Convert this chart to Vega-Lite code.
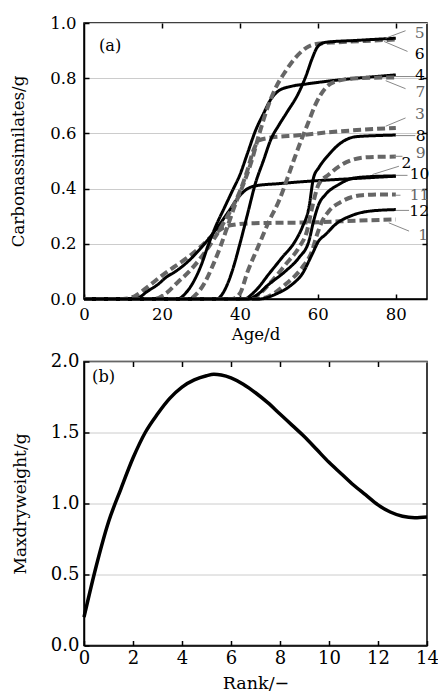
{
  "$schema": "https://vega.github.io/schema/vega-lite/v6.json",
  "padding": {"left": 10, "top": 14, "right": 4, "bottom": 0},
  "spacing": 7.5,
  "config": {
    "font": "DejaVu Serif",
    "view": {"stroke": "black", "strokeWidth": 1.5},
    "axis": {
      "domainColor": "black", "domainWidth": 1.5,
      "tickColor": "black", "tickWidth": 1.5, "tickSize": -5,
      "labelFont": "DejaVu Serif", "labelColor": "black",
      "titleFont": "DejaVu Serif", "titleColor": "black", "titleFontWeight": "normal",
      "gridColor": "#cccccc", "gridWidth": 1
    }
  },
  "datasets": {
    "curves": [
      {"id":1,"s":"dashed","a":0,"w":0},{"id":1,"s":"dashed","a":10,"w":0},{"id":1,"s":"dashed","a":13,"w":0.01},{"id":1,"s":"dashed","a":16,"w":0.04},{"id":1,"s":"dashed","a":20,"w":0.085},{"id":1,"s":"dashed","a":23,"w":0.115},{"id":1,"s":"dashed","a":27,"w":0.155},{"id":1,"s":"dashed","a":30,"w":0.19},{"id":1,"s":"dashed","a":33,"w":0.23},{"id":1,"s":"dashed","a":36,"w":0.26},{"id":1,"s":"dashed","a":39,"w":0.27},{"id":1,"s":"dashed","a":42,"w":0.274},{"id":1,"s":"dashed","a":50,"w":0.276},{"id":1,"s":"dashed","a":60,"w":0.278},{"id":1,"s":"dashed","a":70,"w":0.284},{"id":1,"s":"dashed","a":80,"w":0.288},
      {"id":2,"s":"solid","a":0,"w":0},{"id":2,"s":"solid","a":13,"w":0},{"id":2,"s":"solid","a":16.5,"w":0.03},{"id":2,"s":"solid","a":19,"w":0.053},{"id":2,"s":"solid","a":21,"w":0.078},{"id":2,"s":"solid","a":23.5,"w":0.1},{"id":2,"s":"solid","a":27,"w":0.14},{"id":2,"s":"solid","a":30,"w":0.185},{"id":2,"s":"solid","a":33.5,"w":0.245},{"id":2,"s":"solid","a":37,"w":0.315},{"id":2,"s":"solid","a":40,"w":0.375},{"id":2,"s":"solid","a":42,"w":0.4},{"id":2,"s":"solid","a":44,"w":0.41},{"id":2,"s":"solid","a":50,"w":0.418},{"id":2,"s":"solid","a":58,"w":0.427},{"id":2,"s":"solid","a":70,"w":0.437},{"id":2,"s":"solid","a":80,"w":0.445},
      {"id":3,"s":"dashed","a":0,"w":0},{"id":3,"s":"dashed","a":18,"w":0},{"id":3,"s":"dashed","a":21,"w":0.02},{"id":3,"s":"dashed","a":24,"w":0.06},{"id":3,"s":"dashed","a":27,"w":0.1},{"id":3,"s":"dashed","a":30,"w":0.15},{"id":3,"s":"dashed","a":33,"w":0.21},{"id":3,"s":"dashed","a":36,"w":0.28},{"id":3,"s":"dashed","a":38,"w":0.33},{"id":3,"s":"dashed","a":40,"w":0.39},{"id":3,"s":"dashed","a":42,"w":0.47},{"id":3,"s":"dashed","a":43.5,"w":0.54},{"id":3,"s":"dashed","a":45,"w":0.575},{"id":3,"s":"dashed","a":48,"w":0.585},{"id":3,"s":"dashed","a":55,"w":0.593},{"id":3,"s":"dashed","a":62,"w":0.603},{"id":3,"s":"dashed","a":70,"w":0.612},{"id":3,"s":"dashed","a":80,"w":0.62},
      {"id":4,"s":"solid","a":0,"w":0},{"id":4,"s":"solid","a":24,"w":0},{"id":4,"s":"solid","a":26,"w":0.02},{"id":4,"s":"solid","a":28,"w":0.06},{"id":4,"s":"solid","a":30,"w":0.12},{"id":4,"s":"solid","a":32,"w":0.2},{"id":4,"s":"solid","a":34,"w":0.27},{"id":4,"s":"solid","a":36,"w":0.33},{"id":4,"s":"solid","a":38,"w":0.39},{"id":4,"s":"solid","a":40,"w":0.45},{"id":4,"s":"solid","a":42,"w":0.53},{"id":4,"s":"solid","a":44,"w":0.61},{"id":4,"s":"solid","a":46,"w":0.67},{"id":4,"s":"solid","a":48,"w":0.725},{"id":4,"s":"solid","a":50,"w":0.755},{"id":4,"s":"solid","a":53,"w":0.77},{"id":4,"s":"solid","a":57,"w":0.779},{"id":4,"s":"solid","a":63,"w":0.79},{"id":4,"s":"solid","a":70,"w":0.8},{"id":4,"s":"solid","a":80,"w":0.812},
      {"id":5,"s":"dashed","a":0,"w":0},{"id":5,"s":"dashed","a":27,"w":0},{"id":5,"s":"dashed","a":29,"w":0.02},{"id":5,"s":"dashed","a":31,"w":0.06},{"id":5,"s":"dashed","a":33,"w":0.12},{"id":5,"s":"dashed","a":35,"w":0.19},{"id":5,"s":"dashed","a":37,"w":0.27},{"id":5,"s":"dashed","a":39,"w":0.35},{"id":5,"s":"dashed","a":41,"w":0.42},{"id":5,"s":"dashed","a":43,"w":0.5},{"id":5,"s":"dashed","a":45,"w":0.6},{"id":5,"s":"dashed","a":47,"w":0.69},{"id":5,"s":"dashed","a":49,"w":0.76},{"id":5,"s":"dashed","a":51.7,"w":0.825},{"id":5,"s":"dashed","a":54,"w":0.87},{"id":5,"s":"dashed","a":57,"w":0.91},{"id":5,"s":"dashed","a":60,"w":0.925},{"id":5,"s":"dashed","a":65,"w":0.93},{"id":5,"s":"dashed","a":72,"w":0.935},{"id":5,"s":"dashed","a":80,"w":0.94},
      {"id":6,"s":"solid","a":0,"w":0},{"id":6,"s":"solid","a":34,"w":0},{"id":6,"s":"solid","a":36,"w":0.03},{"id":6,"s":"solid","a":38,"w":0.1},{"id":6,"s":"solid","a":40,"w":0.2},{"id":6,"s":"solid","a":42,"w":0.31},{"id":6,"s":"solid","a":44,"w":0.42},{"id":6,"s":"solid","a":46,"w":0.5},{"id":6,"s":"solid","a":48,"w":0.58},{"id":6,"s":"solid","a":50,"w":0.63},{"id":6,"s":"solid","a":52,"w":0.675},{"id":6,"s":"solid","a":55,"w":0.745},{"id":6,"s":"solid","a":57,"w":0.81},{"id":6,"s":"solid","a":58.5,"w":0.87},{"id":6,"s":"solid","a":60,"w":0.915},{"id":6,"s":"solid","a":62,"w":0.93},{"id":6,"s":"solid","a":70,"w":0.937},{"id":6,"s":"solid","a":80,"w":0.945},
      {"id":7,"s":"dashed","a":0,"w":0},{"id":7,"s":"dashed","a":38,"w":0},{"id":7,"s":"dashed","a":40,"w":0.02},{"id":7,"s":"dashed","a":42,"w":0.1},{"id":7,"s":"dashed","a":45,"w":0.2},{"id":7,"s":"dashed","a":47.4,"w":0.28},{"id":7,"s":"dashed","a":50,"w":0.355},{"id":7,"s":"dashed","a":52.5,"w":0.45},{"id":7,"s":"dashed","a":54,"w":0.51},{"id":7,"s":"dashed","a":56,"w":0.585},{"id":7,"s":"dashed","a":57.7,"w":0.645},{"id":7,"s":"dashed","a":59.4,"w":0.705},{"id":7,"s":"dashed","a":62,"w":0.765},{"id":7,"s":"dashed","a":65,"w":0.79},{"id":7,"s":"dashed","a":70,"w":0.8},{"id":7,"s":"dashed","a":80,"w":0.803},
      {"id":8,"s":"solid","a":0,"w":0},{"id":8,"s":"solid","a":41,"w":0},{"id":8,"s":"solid","a":44,"w":0.03},{"id":8,"s":"solid","a":47.4,"w":0.09},{"id":8,"s":"solid","a":50.8,"w":0.15},{"id":8,"s":"solid","a":54.2,"w":0.21},{"id":8,"s":"solid","a":56,"w":0.26},{"id":8,"s":"solid","a":57.7,"w":0.33},{"id":8,"s":"solid","a":58.9,"w":0.44},{"id":8,"s":"solid","a":60.2,"w":0.475},{"id":8,"s":"solid","a":62.8,"w":0.523},{"id":8,"s":"solid","a":65.4,"w":0.56},{"id":8,"s":"solid","a":69.7,"w":0.588},{"id":8,"s":"solid","a":75,"w":0.592},{"id":8,"s":"solid","a":80,"w":0.594},
      {"id":9,"s":"dashed","a":0,"w":0},{"id":9,"s":"dashed","a":42,"w":0},{"id":9,"s":"dashed","a":44.8,"w":0.017},{"id":9,"s":"dashed","a":48.2,"w":0.065},{"id":9,"s":"dashed","a":51.7,"w":0.125},{"id":9,"s":"dashed","a":55.1,"w":0.186},{"id":9,"s":"dashed","a":57.2,"w":0.246},{"id":9,"s":"dashed","a":58.5,"w":0.33},{"id":9,"s":"dashed","a":60.2,"w":0.415},{"id":9,"s":"dashed","a":62.8,"w":0.451},{"id":9,"s":"dashed","a":66.2,"w":0.487},{"id":9,"s":"dashed","a":71.4,"w":0.512},{"id":9,"s":"dashed","a":75,"w":0.515},{"id":9,"s":"dashed","a":80,"w":0.516},
      {"id":10,"s":"solid","a":0,"w":0},{"id":10,"s":"solid","a":42,"w":0},{"id":10,"s":"solid","a":43.9,"w":0.01},{"id":10,"s":"solid","a":47.4,"w":0.053},{"id":10,"s":"solid","a":51.7,"w":0.101},{"id":10,"s":"solid","a":55.1,"w":0.149},{"id":10,"s":"solid","a":57.7,"w":0.21},{"id":10,"s":"solid","a":58.9,"w":0.282},{"id":10,"s":"solid","a":60.2,"w":0.342},{"id":10,"s":"solid","a":62,"w":0.379},{"id":10,"s":"solid","a":65.4,"w":0.415},{"id":10,"s":"solid","a":68.8,"w":0.437},{"id":10,"s":"solid","a":73,"w":0.443},{"id":10,"s":"solid","a":80,"w":0.446},
      {"id":11,"s":"dashed","a":0,"w":0},{"id":11,"s":"dashed","a":44,"w":0},{"id":11,"s":"dashed","a":47.4,"w":0.01},{"id":11,"s":"dashed","a":51.7,"w":0.053},{"id":11,"s":"dashed","a":55.9,"w":0.113},{"id":11,"s":"dashed","a":58.5,"w":0.174},{"id":11,"s":"dashed","a":59.8,"w":0.234},{"id":11,"s":"dashed","a":61.1,"w":0.282},{"id":11,"s":"dashed","a":62.8,"w":0.318},{"id":11,"s":"dashed","a":66.2,"w":0.354},{"id":11,"s":"dashed","a":71.4,"w":0.376},{"id":11,"s":"dashed","a":76.5,"w":0.379},{"id":11,"s":"dashed","a":80,"w":0.379},
      {"id":12,"s":"solid","a":0,"w":0},{"id":12,"s":"solid","a":45,"w":0},{"id":12,"s":"solid","a":49.1,"w":0.017},{"id":12,"s":"solid","a":53.4,"w":0.053},{"id":12,"s":"solid","a":55.9,"w":0.089},{"id":12,"s":"solid","a":58.5,"w":0.161},{"id":12,"s":"solid","a":60.2,"w":0.21},{"id":12,"s":"solid","a":62,"w":0.234},{"id":12,"s":"solid","a":64.5,"w":0.27},{"id":12,"s":"solid","a":68.8,"w":0.303},{"id":12,"s":"solid","a":73.1,"w":0.318},{"id":12,"s":"solid","a":80,"w":0.324}
    ],
    "leaders": [
      {"a":77.4,"w":0.945,"a2":82.5,"w2":0.972},
      {"a":77,"w":0.933,"a2":83,"w2":0.897},
      {"a":80,"w":0.806,"a2":85,"w2":0.806},
      {"a":77.4,"w":0.791,"a2":82.5,"w2":0.762},
      {"a":77.4,"w":0.626,"a2":82.5,"w2":0.656},
      {"a":80,"w":0.592,"a2":85,"w2":0.592},
      {"a":79.5,"w":0.517,"a2":81.7,"w2":0.517},
      {"a":74,"w":0.451,"a2":80.8,"w2":0.481},
      {"a":80,"w":0.448,"a2":83,"w2":0.448},
      {"a":80,"w":0.376,"a2":81.2,"w2":0.376},
      {"a":80,"w":0.321,"a2":83.4,"w2":0.321},
      {"a":78.2,"w":0.276,"a2":83.4,"w2":0.246}
    ],
    "labels": [
      {"t":"5","s":"dashed","a":86.1,"w":0.965},
      {"t":"6","s":"solid","a":86.1,"w":0.887},
      {"t":"4","s":"solid","a":86.2,"w":0.811},
      {"t":"7","s":"dashed","a":86.3,"w":0.751},
      {"t":"3","s":"dashed","a":86.2,"w":0.671},
      {"t":"8","s":"solid","a":86.4,"w":0.591},
      {"t":"9","s":"dashed","a":86.4,"w":0.528},
      {"t":"2","s":"solid","a":82.7,"w":0.494},
      {"t":"10","s":"solid","a":86.1,"w":0.452},
      {"t":"11","s":"dashed","a":86.1,"w":0.378},
      {"t":"12","s":"solid","a":86.0,"w":0.319},
      {"t":"1","s":"dashed","a":87.0,"w":0.231}
    ],
    "rank": [
      {"r":0,"m":0.2},{"r":0.5,"m":0.56},{"r":1,"m":0.87},{"r":1.5,"m":1.1},{"r":2,"m":1.32},{"r":2.5,"m":1.5},{"r":3,"m":1.63},{"r":3.5,"m":1.74},{"r":4,"m":1.82},{"r":4.5,"m":1.87},{"r":5,"m":1.9},{"r":5.3,"m":1.91},{"r":5.6,"m":1.905},{"r":6,"m":1.885},{"r":6.5,"m":1.84},{"r":7,"m":1.78},{"r":7.5,"m":1.71},{"r":8,"m":1.63},{"r":8.5,"m":1.55},{"r":9,"m":1.47},{"r":9.5,"m":1.38},{"r":10,"m":1.29},{"r":10.5,"m":1.21},{"r":11,"m":1.13},{"r":11.5,"m":1.06},{"r":12,"m":0.99},{"r":12.5,"m":0.94},{"r":13,"m":0.91},{"r":13.5,"m":0.9},{"r":14,"m":0.905}
    ]
  },
  "vconcat": [
    {
      "width": 343,
      "height": 276,
      "resolve": {"axis": {"x": "independent", "y": "independent"}},
      "layer": [
        {
          "data": {"name": "curves"},
          "mark": {"type": "line", "interpolate": "monotone", "strokeCap": "butt"},
          "encoding": {
            "x": {"field": "a", "type": "quantitative", "scale": {"domain": [0, 88], "nice": false},
                  "axis": {"orient": "bottom", "values": [0, 20, 40, 60, 80], "title": "Age/d", "grid": false,
                           "labelFontSize": 16.5, "titleFontSize": 16.6, "labelPadding": 12, "titlePadding": 4, "labelFlush": false}},
            "y": {"field": "w", "type": "quantitative", "scale": {"domain": [0, 1], "nice": false},
                  "axis": {"orient": "left", "values": [0, 0.2, 0.4, 0.6, 0.8, 1.0], "format": ".1f", "title": "Carbonassimilates/g", "grid": true,
                           "labelFontSize": 16.5, "titleFontSize": 16.6, "labelPadding": 13, "titlePadding": 23, "labelFlush": false}},
            "detail": {"field": "id", "type": "nominal"},
            "color": {"field": "s", "type": "nominal", "scale": {"domain": ["solid", "dashed"], "range": ["#000000", "#666666"]}, "legend": null},
            "strokeDash": {"field": "s", "type": "nominal", "scale": {"domain": ["solid", "dashed"], "range": [[1, 0], [8, 4]]}, "legend": null},
            "strokeWidth": {"field": "s", "type": "nominal", "scale": {"domain": ["solid", "dashed"], "range": [3, 4]}, "legend": null}
          }
        },
        {
          "data": {"name": "leaders"},
          "mark": {"type": "rule", "color": "#888888", "strokeWidth": 1},
          "encoding": {
            "x": {"field": "a", "type": "quantitative",
                  "axis": {"orient": "top", "values": [20, 40, 60, 80], "labels": false, "title": null, "grid": false, "domain": false}},
            "y": {"field": "w", "type": "quantitative",
                  "axis": {"orient": "right", "values": [0.2, 0.4, 0.6, 0.8], "labels": false, "title": null, "grid": false, "domain": false}},
            "x2": {"field": "a2"},
            "y2": {"field": "w2"}
          }
        },
        {
          "data": {"name": "labels"},
          "mark": {"type": "text", "fontSize": 15.5, "align": "center", "baseline": "middle"},
          "encoding": {
            "x": {"field": "a", "type": "quantitative", "axis": null},
            "y": {"field": "w", "type": "quantitative", "axis": null},
            "text": {"field": "t"},
            "color": {"field": "s", "type": "nominal", "scale": {"domain": ["solid", "dashed"], "range": ["#000000", "#666666"]}, "legend": null}
          }
        },
        {
          "data": {"values": [{"t": "(a)", "a": 3.85, "w": 0.917}]},
          "mark": {"type": "text", "fontSize": 16.2, "align": "left", "baseline": "middle", "color": "black"},
          "encoding": {
            "x": {"field": "a", "type": "quantitative", "axis": null},
            "y": {"field": "w", "type": "quantitative", "axis": null},
            "text": {"field": "t"}
          }
        }
      ]
    },
    {
      "width": 343,
      "height": 284,
      "resolve": {"axis": {"x": "independent", "y": "independent"}},
      "layer": [
        {
          "data": {"name": "rank"},
          "mark": {"type": "line", "interpolate": "monotone", "color": "black", "strokeWidth": 3.5},
          "encoding": {
            "x": {"field": "r", "type": "quantitative", "scale": {"domain": [0, 14], "nice": false},
                  "axis": {"orient": "bottom", "values": [0, 2, 4, 6, 8, 10, 12, 14], "title": "Rank/−", "grid": false,
                           "labelFontSize": 18, "titleFontSize": 17.5, "labelPadding": 9, "titlePadding": 7, "labelFlush": false}},
            "y": {"field": "m", "type": "quantitative", "scale": {"domain": [0, 2], "nice": false},
                  "axis": {"orient": "left", "values": [0, 0.5, 1.0, 1.5, 2.0], "format": ".1f", "title": "Maxdryweight/g", "grid": true,
                           "labelFontSize": 18, "titleFontSize": 17, "labelPadding": 10, "titlePadding": 21, "labelFlush": false}}
          }
        },
        {
          "data": {"values": [{"t": "(b)", "r": 0.33, "m": 1.89}]},
          "mark": {"type": "text", "fontSize": 16.2, "align": "left", "baseline": "middle", "color": "black"},
          "encoding": {
            "x": {"field": "r", "type": "quantitative",
                  "axis": {"orient": "top", "values": [2, 4, 6, 8, 10, 12], "labels": false, "title": null, "grid": false, "domain": false}},
            "y": {"field": "m", "type": "quantitative",
                  "axis": {"orient": "right", "values": [0.5, 1.0, 1.5], "labels": false, "title": null, "grid": false, "domain": false}},
            "text": {"field": "t"}
          }
        }
      ]
    }
  ]
}
